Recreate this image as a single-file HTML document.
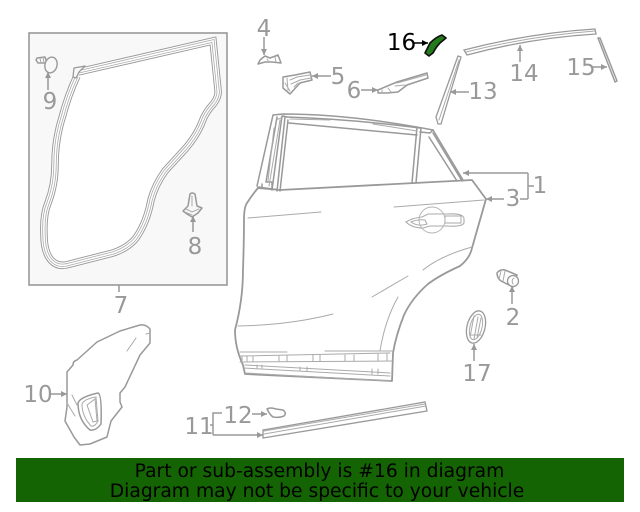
<!DOCTYPE html>
<html><head><meta charset="utf-8"><style>
html,body{margin:0;padding:0;background:#fff;width:640px;height:512px;overflow:hidden}
svg{display:block}
text{font-family:"DejaVu Sans",sans-serif}
.l{font-size:23px;fill:#999;text-anchor:middle}
.p{fill:none;stroke:#999;stroke-width:1.5;stroke-linejoin:round;stroke-linecap:round}
.t{fill:none;stroke:#aaa;stroke-width:1;stroke-linecap:round}
.a{fill:none;stroke:#999;stroke-width:1.5}
</style></head><body>
<svg width="640" height="512" viewBox="0 0 640 512" xmlns="http://www.w3.org/2000/svg">
<defs>
<marker id="m" markerWidth="8" markerHeight="8" refX="6" refY="3" orient="auto" markerUnits="userSpaceOnUse"><path d="M0 0L6 3L0 6z" fill="#999"/></marker>
<marker id="k" markerWidth="8" markerHeight="8" refX="6" refY="3" orient="auto" markerUnits="userSpaceOnUse"><path d="M0 0L6 3L0 6z" fill="#000"/></marker>
<path id="seal" d="M78 72L213 41L218 90Q219 96 214 103Q205 113 202 122Q197 135 186 148L165 171Q155 185 151 200Q147 222 136 238Q128 248 113 253L70 264Q58 268 51 260Q44 252 44 235Q43 215 48 203Q55 185 55 165Q55 140 62 118Q68 95 77 76"/>
</defs>
<rect x="29" y="33" width="198" height="252" fill="#f8f8f8" stroke="#999" stroke-width="1.6"/>
<use href="#seal" fill="#fff" stroke="#999" stroke-width="7.5"/>
<use href="#seal" fill="none" stroke="#fff" stroke-width="5.6"/>
<use href="#seal" fill="none" stroke="#aaa" stroke-width="3.2"/>
<use href="#seal" fill="none" stroke="#fff" stroke-width="1.6"/>
<path d="M74 68L85 66L79 72L76 78L73 77z" fill="#f8f8f8" stroke="#999" stroke-width="1.3" stroke-linejoin="round"/>
<!-- 9 clip -->
<path class="p" d="M37 58L45 57L47 63L38 63L36 60z" fill="#ddd"/><path class="t" d="M40 58L41 63M43 57L44 63"/>
<ellipse cx="51" cy="65" rx="6" ry="8" fill="#f8f8f8" stroke="#999" stroke-width="1.4" transform="rotate(15 51 65)"/>
<!-- 8 clip -->
<path class="p" d="M190 194Q192 192 195 194L197 206L202 208L198 213L192 217L187 214L183 211L188 206z"/><path class="t" d="M192 196L192 206M186 209L192 212L199 209M185 212L192 215"/>
<!-- door -->
<path d="M258 188L280 190L472 180L486 199L472 248Q470 258 460 266Q440 275 428 284Q412 298 404 315Q396 335 393 353L392 381L245 374L243 365Q235 348 235 330Q243 300 243 270Q244 240 244 220Q244 207 247 203Q252 195 258 188z" fill="#fff" stroke="#999" stroke-width="1.8" stroke-linejoin="round"/>
<!-- window -->
<path class="p" d="M257 186L273 115L283 114Q350 114 433 130L463 180"/>
<path class="p" d="M277 117L266 182L272 182L272 190M282 116L272 190M285 117L277 191M288 120L280 191M283 116L287 117M258 187L280 190M262 188V184"/>
<path class="p" d="M289 123L417 135M287 117Q350 119 420 128M417 127L412 183M421 128L416 183M420 132L430 133L433 130M429 137L457 181M433 133L462 181"/>
<path class="t" d="M290 119L330 120M373 124L417 131M276 120L283 117M274 128L268 181M280 120L269 186"/>
<!-- door creases -->
<path class="t" d="M248 218L321 212M394 207L484 200M423 270Q440 256 472 247M372 297L408 276M238 326Q290 325 333 314M380 351Q385 320 398 297"/>
<!-- sill -->
<path class="t" d="M240 352L287 352M325 351L392 351"/>
<path class="t" d="M240 356L390 353M240 362L392 361M245 365L390 373M243 368L390 376M245 373L390 381"/>
<path class="t" d="M242 356V361M247 356V361M253 356V361M279 356V361M287 356V361M313 355V361M320 355V361M345 355V361M354 355V361M378 354V361M387 354V361M257 365V368M262 365V368M300 367V371M307 367V371M372 369V374M378 369V374"/>
<!-- handle -->
<path d="M406 222Q412 218 422 217L428 214L447 214Q464 213 464 219L464 223Q462 227 447 226L430 226L423 228Q412 228 406 222z" fill="none" stroke="#aaa" stroke-width="1.1"/>
<path d="M411 222Q418 219 425 220L427 224Q418 227 411 222zM445 216L461 216L461 223L445 223z" fill="none" stroke="#aaa" stroke-width="1"/>
<circle cx="432" cy="220" r="13" fill="none" stroke="#b5b5b5" stroke-width="1"/>
<!-- 4 -->
<path class="p" d="M258 64L260 60L265 56L270 58L278 55L281 63L272 62L265 62z"/><path class="t" d="M267 59L269 62M275 57L276 62"/>
<!-- 5 -->
<path class="p" d="M283 77L295 75L310 72L312 80L300 83L290 94L283 88z"/><path class="t" d="M287 78L288 90M290 80L297 77L310 75M291 84L300 80L311 78M285 83L290 91M294 87L298 83"/>
<!-- 6 -->
<path class="p" d="M378 90L397 82L427 73L428 78L407 85L398 92L387 93L378 93z"/><path class="t" d="M395 86L405 85M397 83L426 75M382 90L382 93M388 88L391 92"/>
<!-- 16 -->
<path d="M425 53L430 43Q436 37 442 35L446 38L440 43Q436 47 433 53L429 56z" fill="#237c1a" stroke="#111" stroke-width="1.7" stroke-linejoin="round"/>
<!-- 14 -->
<path d="M464 50Q530 33 595 29L596 34Q530 38 467 55z" fill="#fff" stroke="#999" stroke-width="1.3"/><path class="t" d="M466 52Q530 36 595 31"/>
<!-- 15 -->
<path class="p" d="M598 38L600 38L617 81L615 82z"/>
<!-- 13 -->
<path d="M458 56L461 57L441 124L438 124L436 117z" fill="#fff" stroke="#999" stroke-width="1.3" stroke-linejoin="round"/><path class="t" d="M459 60L439 120"/>
<!-- 2 -->
<path class="p" d="M497 273Q500 269 505 270L517 275L513 287L501 281Q497 278 497 273z"/><circle cx="513" cy="281" r="5.5" fill="#fff" stroke="#999" stroke-width="1.3"/><path class="t" d="M501 271L499 279M505 271L503 281M514 278Q511 280 513 284"/>
<!-- 17 -->
<ellipse cx="476" cy="327" rx="9" ry="16.5" fill="#fff" stroke="#999" stroke-width="1.3" transform="rotate(14 476 327)"/><ellipse cx="476" cy="327" rx="6" ry="13" fill="none" stroke="#aaa" transform="rotate(14 476 327)"/><path class="t" d="M474 316L470 337M478 317L474 339M481 318L477 338M470 335H481"/>
<!-- 10 -->
<path class="p" d="M67 372L73 365Q73 361 77 360L97 342L120 331L140 325Q146 324 150 329L150 343L140 355L125 387L120 393L120 402L122 407L111 421L107 437L90 444L80 445L74 437L65 421L67 407z"/>
<path class="t" d="M136 338L127 351M150 333L146 334M67 403L75 416M72 395L77 405"/>
<path class="p" d="M78 403Q80 397 98 393Q102 394 101 424Q96 431 90 430Q78 420 78 403z"/><path d="M82 404Q84 399 96 397L98 421Q95 427 91 426Q82 416 82 404z" fill="none" stroke="#aaa"/><path d="M87 405L95 399L97 421L93 422z" fill="none" stroke="#aaa"/>
<!-- 11 strip -->
<path d="M263 430L425 402L427 411L263 438z" fill="#fff" stroke="#999" stroke-width="1.3"/><path class="t" d="M264 434L426 406M264 431L425 404"/>
<!-- 12 -->
<path class="p" d="M267 409Q270 407 276 409L283 410Q287 413 284 416Q279 418 273 417Q270 415 267 409z"/>
<!-- arrows -->
<path class="a" marker-end="url(#m)" d="M264 37V55"/>
<path class="a" marker-end="url(#m)" d="M331 76H312"/>
<path class="a" marker-end="url(#m)" d="M361 90H378"/>
<path d="M413 43H428" fill="none" stroke="#000" stroke-width="1.5" marker-end="url(#k)"/>
<path class="a" marker-end="url(#m)" d="M520 62V45"/>
<path class="a" marker-end="url(#m)" d="M592 67H607"/>
<path class="a" marker-end="url(#m)" d="M469 92H450"/>
<path class="a" marker-end="url(#m)" d="M528 173H463"/>
<path class="a" d="M528 173V199M528 186H534M528 199H520"/>
<path class="a" marker-end="url(#m)" d="M504 199H486"/>
<path class="a" marker-end="url(#m)" d="M512 304V286"/>
<path class="a" marker-end="url(#m)" d="M474 361V344"/>
<path class="a" marker-end="url(#m)" d="M48 90V72"/>
<path class="a" marker-end="url(#m)" d="M193 232V216"/>
<path class="a" d="M119 285V292"/>
<path class="a" marker-end="url(#m)" d="M50 394H67"/>
<path class="a" marker-end="url(#m)" d="M252 414H267"/>
<path class="a" d="M222 413H213V435M210 425H213"/>
<path class="a" marker-end="url(#m)" d="M213 435H263"/>
<!-- labels -->
<text class="l" x="264" y="36">4</text>
<text class="l" x="338" y="84">5</text>
<text class="l" x="354" y="98">6</text>
<text x="401.5" y="50" font-size="23" fill="#000" text-anchor="middle">16</text>
<text class="l" x="524" y="81">14</text>
<text class="l" x="581" y="75">15</text>
<text class="l" x="483" y="99">13</text>
<text class="l" x="540" y="193">1</text>
<text class="l" x="513" y="206">3</text>
<text class="l" x="513" y="325">2</text>
<text class="l" x="477" y="381">17</text>
<text class="l" x="50" y="109">9</text>
<text class="l" x="195" y="254">8</text>
<text class="l" x="121" y="313">7</text>
<text class="l" x="38" y="402">10</text>
<text class="l" x="199" y="434">11</text>
<text class="l" x="238" y="423">12</text>
<!-- banner -->
<rect x="16" y="458" width="608" height="44" fill="#146404"/>
<text x="319.5" y="477" font-size="18.7" fill="#000" text-anchor="middle">Part or sub-assembly is #16 in diagram</text>
<text x="317" y="497" font-size="18.7" fill="#000" text-anchor="middle">Diagram may not be specific to your vehicle</text>
</svg>
</body></html>
